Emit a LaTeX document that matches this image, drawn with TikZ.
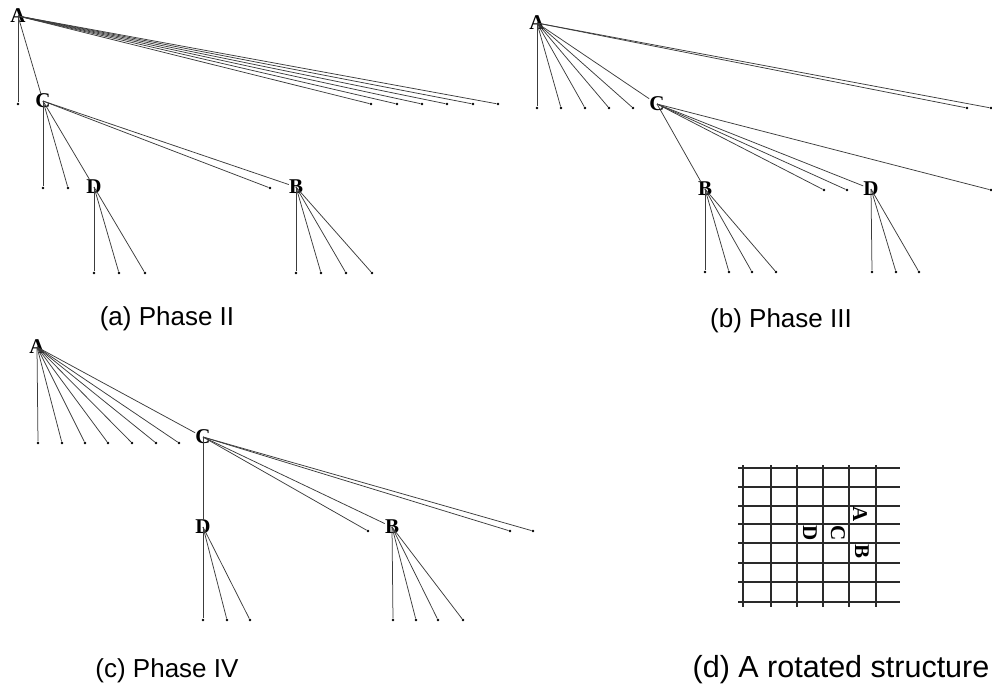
\documentclass[tikz,border=0pt]{standalone}
\usepackage{fontspec}
\setmainfont{Liberation Serif}
\setsansfont{Liberation Sans}
\usetikzlibrary{positioning}
\definecolor{trLine}{HTML}{3C3C3C}
\definecolor{trGrid}{HTML}{2A2A2A}
\tikzset{
  leaf/.style={circle, fill=black, inner sep=0pt, minimum size=2.8pt},
  hub/.style={font=\fontsize{21}{21}\selectfont\bfseries, inner sep=0pt},
  edge/.style={trLine, line width=0.75pt},
  caption/.style={font=\sffamily\fontsize{26}{30}\selectfont, anchor=base},
  gridline/.style={trGrid, line width=1.5pt},
  rotlabel/.style={hub, rotate=-90}
}
\begin{document}
\begin{tikzpicture}[x=1pt, y=-1pt]
  \useasboundingbox (0,0) rectangle (992,686);

  % (a) Phase II
  \node[hub] (aA) at (18,16) {A};
  \node[hub] (aC) at (43,101) {C};
  \node[hub] (aD) at (94,187) {D};
  \node[hub] (aB) at (296,187) {B};
  \foreach \i/\x in {1/18,2/371,3/397,4/422,5/447,6/473,7/498}{
    \node[leaf] (aa\i) at (\x,104) {};
    \draw[edge] (aA.center) -- (aa\i);
  }
  \draw[edge] (aA.center) -- (aC);
  \foreach \i/\x in {1/43,2/68,3/270}{
    \node[leaf] (ac\i) at (\x,188) {};
    \draw[edge] (aC.center) -- (ac\i);
  }
  \draw[edge] (aC.center) -- (aD);
  \draw[edge] (aC.center) -- (aB);
  \foreach \i/\x in {1/94,2/119,3/145}{
    \node[leaf] (ad\i) at (\x,273) {};
    \draw[edge] (aD.center) -- (ad\i);
  }
  \foreach \i/\x in {1/296,2/321,3/346,4/372}{
    \node[leaf] (ab\i) at (\x,273) {};
    \draw[edge] (aB.center) -- (ab\i);
  }
  \node[caption] (capa) at (167,325) {(a) Phase II};

  % (b) Phase III
  \node[hub] (bA) at (537,23) {A};
  \node[hub] (bC) at (657,104) {C};
  \node[hub] (bB) at (705,189) {B};
  \node[hub] (bD) at (871,189) {D};
  \foreach \i/\x in {1/537,2/561,3/585,4/609,5/633,6/967,7/991}{
    \node[leaf] (ba\i) at (\x,108) {};
    \draw[edge] (bA.center) -- (ba\i);
  }
  \draw[edge] (bA.center) -- (bC);
  \foreach \i/\x in {1/824,2/847,3/991}{
    \node[leaf] (bc\i) at (\x,190) {};
    \draw[edge] (bC.center) -- (bc\i);
  }
  \draw[edge] (bC.center) -- (bB);
  \draw[edge] (bC.center) -- (bD);
  \foreach \i/\x in {1/705,2/729,3/752,4/776}{
    \node[leaf] (bb\i) at (\x,272) {};
    \draw[edge] (bB.center) -- (bb\i);
  }
  \foreach \i/\x in {1/872,2/896,3/919}{
    \node[leaf] (bd\i) at (\x,272) {};
    \draw[edge] (bD.center) -- (bd\i);
  }
  \node[caption] (capb) at (781,327) {(b) Phase III};

  % (c) Phase IV
  \node[hub] (cA) at (37,347) {A};
  \node[hub] (cC) at (203,437) {C};
  \node[hub] (cD) at (203,527) {D};
  \node[hub] (cB) at (392,527) {B};
  \foreach \i/\x in {1/38,2/62,3/85,4/108,5/132,6/156,7/179}{
    \node[leaf] (ca\i) at (\x,443) {};
    \draw[edge] (cA.center) -- (ca\i);
  }
  \draw[edge] (cA.center) -- (cC);
  \foreach \i/\x in {1/368,2/510,3/533}{
    \node[leaf] (cc\i) at (\x,531) {};
    \draw[edge] (cC.center) -- (cc\i);
  }
  \draw[edge] (cC.center) -- (cD);
  \draw[edge] (cC.center) -- (cB);
  \foreach \i/\x in {1/203,2/227,3/250}{
    \node[leaf] (cd\i) at (\x,620) {};
    \draw[edge] (cD.center) -- (cd\i);
  }
  \foreach \i/\x in {1/393,2/416,3/438,4/463}{
    \node[leaf] (cb\i) at (\x,620) {};
    \draw[edge] (cB.center) -- (cb\i);
  }
  \node[caption] (capc) at (167,677) {(c) Phase IV};

  % (d) rotated structure
  \foreach \y in {468,487,506,524,543,563,582,602}
    \draw[gridline] (738,\y) -- (900,\y);
  \foreach \x in {743,771,797,823,849,876}
    \draw[gridline] (\x,465) -- (\x,607);
  \node[rotlabel] (dA) at (860,514) {A};
  \node[rotlabel] (dC) at (838,533) {C};
  \node[rotlabel] (dD) at (810,533) {D};
  \node[rotlabel] (dB) at (862,551) {B};
  \node[caption, font=\sffamily\fontsize{30.5}{34}\selectfont] (capd) at (841,677) {(d) A rotated structure};
\end{tikzpicture}
\end{document}
